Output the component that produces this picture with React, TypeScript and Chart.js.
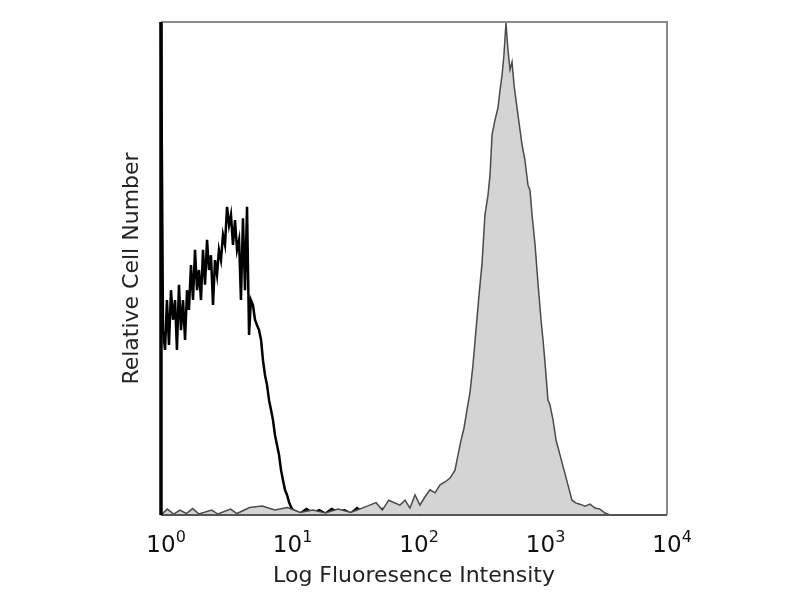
import React, { useEffect, useRef } from "react";
import { Chart, registerables } from "chart.js";

Chart.register(...registerables);

// x in decades of log10 intensity (0 = 10^0 ... 4 = 10^4), y = relative count (0..100)
const controlX = [
  0, 0.016, 0.032, 0.047, 0.063, 0.079, 0.095, 0.111, 0.126, 0.142, 0.158, 0.174, 0.19, 0.206,
  0.221, 0.237, 0.253, 0.269, 0.285, 0.3, 0.316, 0.332, 0.348, 0.364, 0.379, 0.395, 0.411, 0.427,
  0.443, 0.458, 0.474, 0.49, 0.506, 0.522, 0.538, 0.553, 0.569, 0.585, 0.601, 0.617, 0.632, 0.648,
  0.664, 0.68, 0.696, 0.711, 0.727, 0.743, 0.759, 0.775, 0.791, 0.806, 0.822, 0.838, 0.854, 0.87,
  0.885, 0.901, 0.917, 0.933, 0.949, 0.964, 0.98, 0.996, 1.012, 1.028, 1.043, 1.06, 1.1, 1.15, 1.2,
  1.25, 1.3, 1.35, 1.4, 1.45, 1.5, 1.55, 1.6, 1.65, 1.7, 1.75, 1.8, 1.85, 1.9, 1.95, 2.0, 2.05,
];
const controlY = [
  100, 37.5, 33.5, 43.6, 34.5, 45.6, 39.6, 43.6, 33.5, 46.7, 37.5, 43.6, 35.5, 45.6, 41.6, 50.7,
  43.6, 53.8, 45.6, 49.7, 43.6, 53.8, 46.7, 55.8, 49.7, 52.7, 42.6, 51.7, 48.7, 53.8, 51.7, 56.8,
  54.8, 62.5, 58.8, 60.9, 54.8, 59.8, 53.8, 55.8, 43.6, 60.2, 45.6, 62.5, 36.5, 43.6, 42.6, 39.6,
  38.5, 37.5, 35.5, 31.4, 28.4, 26.4, 23.3, 21.3, 19.3, 16.2, 14.2, 12.2, 9.1, 7.1, 5.1, 4.1, 2.6,
  1.6, 1.0, 0.8, 0.3, 1.2, 0.4, 1.0, 0.3, 1.2, 0.5, 1.0, 0.3, 1.4, 0.4, 1.0, 0.3, 1.2, 0.5, 0.8,
  0.2, 1.4, 0.5, 0,
];

const stainedX = [
  0, 0.05, 0.1, 0.15, 0.2, 0.25, 0.3, 0.4, 0.45, 0.55, 0.6, 0.7, 0.8, 0.9, 1.0, 1.1, 1.2, 1.3, 1.4,
  1.5, 1.6, 1.7, 1.75, 1.8, 1.889, 1.929, 1.968, 2.008, 2.047, 2.087, 2.126, 2.166, 2.206, 2.245,
  2.285, 2.324, 2.348, 2.372, 2.395, 2.419, 2.443, 2.466, 2.49, 2.514, 2.538, 2.561, 2.585, 2.601,
  2.617, 2.64, 2.664, 2.68, 2.696, 2.711, 2.727, 2.743, 2.759, 2.775, 2.791, 2.806, 2.822, 2.838,
  2.854, 2.877, 2.901, 2.917, 2.933, 2.957, 2.972, 2.988, 3.004, 3.02, 3.036, 3.059, 3.075, 3.099,
  3.123, 3.154, 3.186, 3.217, 3.249, 3.281, 3.312, 3.352, 3.391, 3.431, 3.47, 3.51, 3.549,
];
const stainedY = [
  0, 1.2, 0.2, 1.0, 0.3, 1.3, 0.2, 1.0, 0.2, 1.2, 0.3, 1.5, 1.8, 1.0, 1.5, 0.5, 1.0, 0.4, 1.2, 0.5,
  1.5, 2.5, 1.0, 3.0, 2.0, 3.0, 1.4, 4.1, 2.0, 3.7, 5.1, 4.5, 6.1, 6.7, 7.5, 9.1, 12.2, 15.2, 17.6,
  21.3, 24.9, 30.4, 37.5, 44.6, 51.1, 60.9, 64.9, 69.0, 77.1, 80.1, 82.6, 86.2, 89.2, 93.3, 99.8,
  94.3, 90.3, 91.9, 87.2, 84.2, 81.1, 78.1, 75.1, 72.0, 66.9, 65.9, 60.9, 54.8, 49.7, 44.6, 39.6,
  35.5, 30.8, 23.3, 22.3, 19.3, 15.2, 12.2, 9.1, 6.1, 3.0, 2.4, 2.2, 1.8, 2.2, 1.4, 1.2, 0.4, 0,
];

const tickBase = "10";
const tickExponents = ["0", "1", "2", "3", "4"];
const xTitle = "Log Fluoresence Intensity";
const yTitle = "Relative Cell Number";

const FONT = "'DejaVu Sans', sans-serif";

const framePlugin = {
  id: "frame",
  afterDatasetsDraw(chart: any) {
    const { ctx, chartArea: a } = chart;
    ctx.save();
    ctx.lineWidth = 2;
    ctx.strokeStyle = "#8a8a8a";
    ctx.beginPath();
    ctx.moveTo(a.left, a.top);
    ctx.lineTo(a.right, a.top);
    ctx.lineTo(a.right, a.bottom);
    ctx.stroke();
    ctx.strokeStyle = "#555";
    ctx.beginPath();
    ctx.moveTo(a.left, a.bottom);
    ctx.lineTo(a.right, a.bottom);
    ctx.stroke();
    ctx.lineWidth = 3.5;
    ctx.strokeStyle = "#000";
    ctx.beginPath();
    ctx.moveTo(a.left, a.top);
    ctx.lineTo(a.left, a.bottom);
    ctx.stroke();
    ctx.restore();
  },
};

// power-of-ten tick labels with a raised exponent
const powerTicksPlugin = {
  id: "powerTicks",
  afterDraw(chart: any) {
    const { ctx } = chart;
    const xs = chart.scales.x;
    const baseY = xs.top + 37;
    ctx.save();
    ctx.fillStyle = "#111";
    ctx.textBaseline = "alphabetic";
    tickExponents.forEach((exp, i) => {
      const px = xs.getPixelForValue(i);
      ctx.font = `23px ${FONT}`;
      ctx.textAlign = "center";
      ctx.fillText(tickBase, px, baseY);
      const w = ctx.measureText(tickBase).width;
      ctx.font = `16px ${FONT}`;
      ctx.textAlign = "left";
      ctx.fillText(exp, px + w / 2, baseY - 10);
    });
    ctx.restore();
  },
};

export default function App() {
  const ref = useRef<HTMLCanvasElement | null>(null);
  useEffect(() => {
    if (!ref.current) return;
    const chart = new Chart(ref.current, {
      type: "line",
      data: {
        datasets: [
          {
            label: "stained",
            data: stainedX.map((x, i) => ({ x, y: stainedY[i] })),
            borderColor: "#4a4a4a",
            backgroundColor: "#d4d4d4",
            borderWidth: 1.5,
            fill: "origin",
            pointRadius: 0,
            tension: 0,
          },
          {
            label: "control",
            data: controlX.map((x, i) => ({ x, y: controlY[i] })),
            borderColor: "#000",
            backgroundColor: "transparent",
            borderWidth: 2.5,
            fill: false,
            pointRadius: 0,
            tension: 0,
          },
        ],
      },
      options: {
        animation: false,
        responsive: false,
        clip: false as any,
        layout: { padding: { left: 0, top: 22, right: 133, bottom: 0 } },
        plugins: { legend: { display: false }, tooltip: { enabled: false } },
        scales: {
          x: {
            type: "linear",
            min: 0,
            max: 4,
            grid: { display: false, drawTicks: false },
            border: { display: false },
            afterBuildTicks: (s: any) => {
              s.ticks = tickExponents.map((_, i) => ({ value: i }));
            },
            afterFit: (s: any) => {
              s.height = 85;
            },
            ticks: { display: false },
            title: {
              display: true,
              text: xTitle,
              color: "#222",
              font: { family: FONT, size: 22 },
              padding: { top: 0, bottom: 11 },
            },
          },
          y: {
            type: "linear",
            min: 0,
            max: 100,
            grid: { display: false, drawTicks: false },
            border: { display: false },
            ticks: { display: false },
            afterFit: (s: any) => {
              s.width = 161;
            },
            title: {
              display: true,
              text: yTitle,
              color: "#222",
              font: { family: FONT, size: 22 },
              padding: { top: 119, bottom: 0 },
            },
          },
        },
      },
      plugins: [framePlugin, powerTicksPlugin],
    });
    return () => chart.destroy();
  }, []);
  return (
    <div style={{ position: "fixed", left: 0, top: 0, width: 800, height: 600, background: "#fff" }}>
      <canvas ref={ref} width={800} height={600} />
    </div>
  );
}
